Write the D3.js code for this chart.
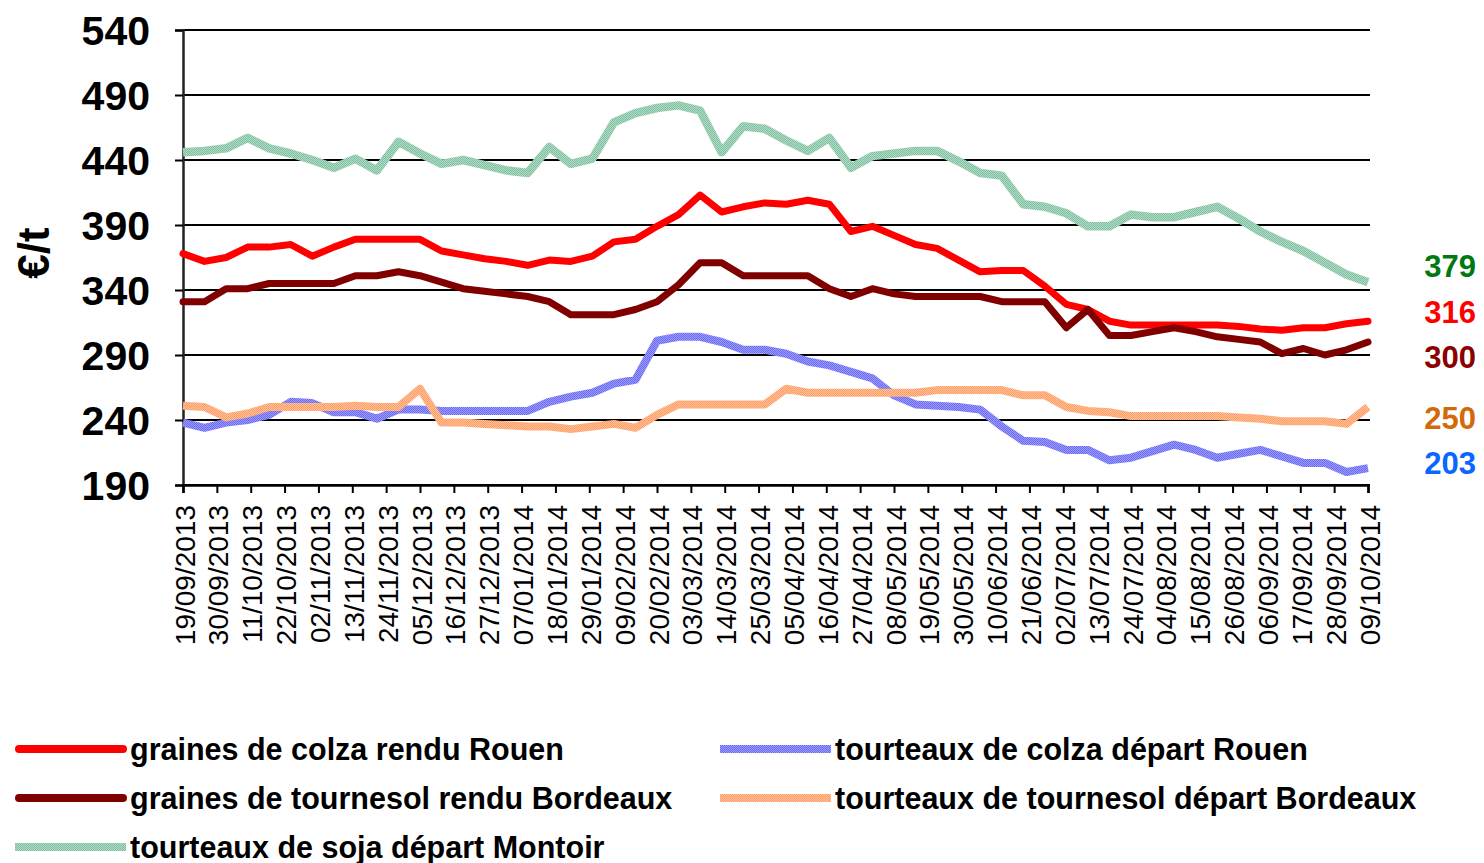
<!DOCTYPE html>
<html>
<head>
<meta charset="utf-8">
<script src="https://cdn.jsdelivr.net/npm/d3@7"></script>
<style>
  html, body { margin: 0; padding: 0; background: #ffffff; }
  svg { display: block; font-family: "Liberation Sans", Arial, sans-serif; }
</style>
</head>
<body>
<svg id="chart" width="1484" height="863"></svg>
<script>
// Weekly quotation dates (Thursdays)
const weeks = [
  "19/09/2013","26/09/2013","03/10/2013","10/10/2013","17/10/2013","24/10/2013","31/10/2013",
  "07/11/2013","14/11/2013","21/11/2013","28/11/2013","05/12/2013","12/12/2013","19/12/2013",
  "26/12/2013","02/01/2014","09/01/2014","16/01/2014","23/01/2014","30/01/2014","06/02/2014",
  "13/02/2014","20/02/2014","27/02/2014","06/03/2014","13/03/2014","20/03/2014","27/03/2014",
  "03/04/2014","10/04/2014","17/04/2014","24/04/2014","01/05/2014","08/05/2014","15/05/2014",
  "22/05/2014","29/05/2014","05/06/2014","12/06/2014","19/06/2014","26/06/2014","03/07/2014",
  "10/07/2014","17/07/2014","24/07/2014","31/07/2014","07/08/2014","14/08/2014","21/08/2014",
  "28/08/2014","04/09/2014","11/09/2014","18/09/2014","25/09/2014","02/10/2014","09/10/2014"
];

// Date-axis labels (every 11 days)
const tickLabels = [
  "19/09/2013","30/09/2013","11/10/2013","22/10/2013","02/11/2013","13/11/2013","24/11/2013",
  "05/12/2013","16/12/2013","27/12/2013","07/01/2014","18/01/2014","29/01/2014","09/02/2014",
  "20/02/2014","03/03/2014","14/03/2014","25/03/2014","05/04/2014","16/04/2014","27/04/2014",
  "08/05/2014","19/05/2014","30/05/2014","10/06/2014","21/06/2014","02/07/2014","13/07/2014",
  "24/07/2014","04/08/2014","15/08/2014","26/08/2014","06/09/2014","17/09/2014","28/09/2014",
  "09/10/2014"
];

const yTicks = [190, 240, 290, 340, 390, 440, 490, 540];

// Prices in €/t
const grainesColzaRouen = [
  368,362,365,373,373,375,366,373,379,379,379,379,370,367,364,362,359,363,362,366,
  377,379,389,398,413,400,404,407,406,409,406,385,389,382,375,372,363,354,355,355,
  343,329,325,316,313,313,313,313,313,312,310,309,311,311,314,316
];
const tourteauxColzaRouen = [
  238,234,238,240,244,254,253,246,246,241,248,248,247,247,247,247,247,254,258,261,
  268,271,301,304,304,300,294,294,291,285,282,277,272,259,252,251,250,248,235,224,
  223,217,217,209,211,216,221,217,211,214,217,212,207,207,200,203
];
const grainesTournesolBordeaux = [
  331,331,341,341,345,345,345,345,351,351,354,351,346,341,339,337,335,331,321,321,
  321,325,331,344,361,361,351,351,351,351,341,335,341,337,335,335,335,335,331,331,
  331,311,325,305,305,308,311,308,304,302,300,291,295,290,294,300
];
const tourteauxTournesolBordeaux = [
  251,250,242,245,250,250,250,250,251,250,250,264,238,238,237,236,235,235,233,235,
  237,234,244,252,252,252,252,252,264,261,261,261,261,261,261,263,263,263,263,259,
  259,250,247,246,243,243,243,243,243,242,241,239,239,239,237,250
];
const tourteauxSojaMontoir = [
  446,447,449,457,449,445,440,434,441,432,454,445,437,440,436,432,430,450,437,441,
  469,476,480,482,478,446,466,464,455,447,457,434,443,445,447,447,439,430,428,406,
  404,399,389,389,398,396,396,400,404,395,385,377,370,361,352,346
];

// Latest quotations written at the right of the plot
const latestQuotes = ["379", "316", "300", "250", "203"];
const latestQuoteColors = ["#007A10", "#FF0000", "#8B0000", "#D2690A", "#0A66FF"];

const seriesNames = [
  "graines de colza rendu Rouen",
  "tourteaux de colza départ Rouen",
  "graines de tournesol rendu Bordeaux",
  "tourteaux de tournesol départ Bordeaux",
  "tourteaux de soja départ Montoir"
];

const parse = d3.timeParse("%d/%m/%Y");
const dates = weeks.map(parse);
const tickDates = tickLabels.map(parse);

const svg = d3.select("#chart");
const plot = { left: 183, right: 1368, top: 30, bottom: 485 };

const x = d3.scaleTime()
  .domain([dates[0], dates[dates.length - 1]])
  .range([plot.left, plot.right]);
const y = d3.scaleLinear()
  .domain([190, 540])
  .range([plot.bottom, plot.top]);

// Textured strokes for the meal (tourteaux) series
const defs = svg.append("defs");
function dither(id, dark, light) {
  const p = defs.append("pattern")
    .attr("id", id).attr("patternUnits", "userSpaceOnUse")
    .attr("width", 2).attr("height", 2);
  p.append("rect").attr("width", 2).attr("height", 2).attr("fill", light);
  p.append("rect").attr("x", 0).attr("y", 0).attr("width", 1).attr("height", 1).attr("fill", dark);
  p.append("rect").attr("x", 1).attr("y", 1).attr("width", 1).attr("height", 1).attr("fill", dark);
}
dither("texBlue", "#6A6AF6", "#9C9CFB");
dither("texOrange", "#FF9C62", "#FFC29C");
dither("texGreen", "#7FC0A0", "#B2DBC6");

// Horizontal grid
svg.append("g")
  .selectAll("line")
  .data(yTicks)
  .join("line")
  .attr("x1", plot.left).attr("x2", plot.right + 2)
  .attr("y1", d => y(d)).attr("y2", d => y(d))
  .attr("stroke", "#000").attr("stroke-width", 2);

// Y axis
const yAxis = svg.append("g")
  .attr("transform", `translate(${plot.left},0)`)
  .call(d3.axisLeft(y).tickValues(yTicks).tickSize(8).tickPadding(25).tickFormat(d3.format("d")));
yAxis.select(".domain").attr("stroke", "#222").attr("stroke-width", 2.5);
yAxis.selectAll(".tick line").attr("stroke", "#000").attr("stroke-width", 2);
yAxis.selectAll(".tick text")
  .attr("fill", "#000")
  .style("font-size", "41px").style("font-weight", "bold")
  .attr("dy", "0.36em");

// X axis
const xAxis = svg.append("g")
  .attr("transform", `translate(0,${plot.bottom})`)
  .call(d3.axisBottom(x).tickValues(tickDates).tickSize(8).tickFormat((d, i) => tickLabels[i]));
xAxis.select(".domain").attr("stroke", "#000").attr("stroke-width", 2.5);
xAxis.selectAll(".tick line").attr("stroke", "#000").attr("stroke-width", 2);
xAxis.selectAll(".tick text")
  .attr("fill", "#000")
  .style("font-size", "28px")
  .attr("text-anchor", "end")
  .attr("x", 0).attr("y", 0)
  .attr("dy", "0.36em")
  .attr("transform", "translate(1,20) rotate(-90)");

// Y axis title
svg.append("text")
  .attr("transform", "translate(33,253) rotate(-90)")
  .attr("text-anchor", "middle")
  .attr("dy", "0.36em")
  .style("font-size", "44px").style("font-weight", "bold")
  .text("€/t");

// Series lines (drawn in series order)
const line = d3.line()
  .x((d, i) => x(dates[i]))
  .y(d => y(d));

const series = [
  { values: grainesColzaRouen, stroke: "#FF0000", width: 7, cap: "round" },
  { values: tourteauxColzaRouen, stroke: "url(#texBlue)", width: 8, cap: "butt" },
  { values: grainesTournesolBordeaux, stroke: "#800000", width: 7, cap: "round" },
  { values: tourteauxTournesolBordeaux, stroke: "url(#texOrange)", width: 8, cap: "butt" },
  { values: tourteauxSojaMontoir, stroke: "url(#texGreen)", width: 8.5, cap: "butt" }
];

svg.append("g")
  .selectAll("path")
  .data(series)
  .join("path")
  .attr("d", s => line(s.values))
  .attr("fill", "none")
  .attr("stroke", s => s.stroke)
  .attr("stroke-width", s => s.width)
  .attr("stroke-linejoin", "round")
  .attr("stroke-linecap", s => s.cap);

// Latest quotations
const quoteY = [266, 312, 357, 418, 463];
svg.append("g")
  .selectAll("text")
  .data(latestQuotes)
  .join("text")
  .attr("x", 1476)
  .attr("y", (d, i) => quoteY[i])
  .attr("dy", "0.36em")
  .attr("text-anchor", "end")
  .attr("fill", (d, i) => latestQuoteColors[i])
  .style("font-size", "31px").style("font-weight", "bold")
  .text(d => d);

// Legend: two columns, filled row by row
const legendItems = [
  { name: seriesNames[0], stroke: "#FF0000", cap: "round", col: 0, row: 0 },
  { name: seriesNames[1], stroke: "url(#texBlue)", cap: "butt", col: 1, row: 0 },
  { name: seriesNames[2], stroke: "#800000", cap: "round", col: 0, row: 1 },
  { name: seriesNames[3], stroke: "url(#texOrange)", cap: "butt", col: 1, row: 1 },
  { name: seriesNames[4], stroke: "url(#texGreen)", cap: "butt", col: 0, row: 2 }
];
const colX = [15, 720];
const rowY = [749, 798, 847];
const legend = svg.append("g")
  .selectAll("g")
  .data(legendItems)
  .join("g")
  .attr("transform", d => `translate(${colX[d.col]},${rowY[d.row]})`);
legend.append("line")
  .attr("x1", d => d.cap === "round" ? 4 : 0).attr("x2", d => d.cap === "round" ? 108 : 111)
  .attr("y1", 0).attr("y2", 0)
  .attr("stroke", d => d.stroke)
  .attr("stroke-width", 8)
  .attr("stroke-linecap", d => d.cap);
legend.append("text")
  .attr("x", 115)
  .attr("dy", "0.36em")
  .style("font-size", "30.5px").style("font-weight", "bold")
  .text(d => d.name);
</script>
</body>
</html>
